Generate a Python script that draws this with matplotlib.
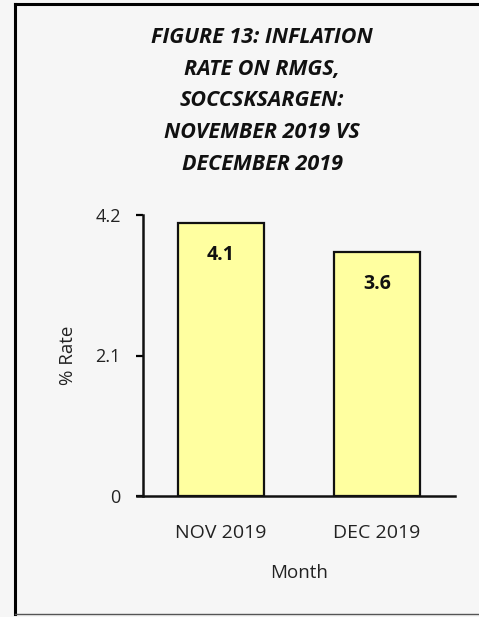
import matplotlib
matplotlib.use("Agg")
import matplotlib.pyplot as plt
from matplotlib.lines import Line2D

months = ["NOV 2019", "DEC 2019"]
rates = [4.08, 3.64]
yticks = [0, 2.1, 4.2]
ytick_labels = ["0", "2.1", "4.2"]
title = "FIGURE 13: INFLATION\nRATE ON RMGS,\nSOCCSKSARGEN:\nNOVEMBER 2019 VS\nDECEMBER 2019"

W, H = 479, 617
bg = "#f6f6f6"
plt.rcParams['font.family'] = ['Open Sans', 'DejaVu Sans']

fig = plt.figure(figsize=(W / 100, H / 100), dpi=100, facecolor=bg)

# outer frame (right edge cropped off)
fig.add_artist(Line2D([15.5 / W, 15.5 / W], [1 - 4 / H, 1 - 614 / H], transform=fig.transFigure,
                      color="black", lw=2.2, solid_capstyle="projecting"))
fig.add_artist(Line2D([15.5 / W, 1.0], [1 - 4 / H, 1 - 4 / H], transform=fig.transFigure,
                      color="black", lw=2.2, solid_capstyle="projecting"))
fig.add_artist(Line2D([15.5 / W, 1.0], [1 - 614 / H, 1 - 614 / H], transform=fig.transFigure,
                      color="#555555", lw=1.0))

ax = fig.add_axes([143 / W, 1 - 496 / H, 312 / W, 281 / H])
ax.set_facecolor(bg)

x = list(range(len(months)))
ax.bar(x, rates, width=0.55, color="#ffffa0", edgecolor="#111111", linewidth=1.6, zorder=3)

for xi, v in zip(x, rates):
    ax.annotate(f"{v:.1f}", xy=(xi, v), xytext=(0, -23), textcoords="offset points",
                ha="center", va="center", fontsize=14, fontweight="bold", color="#111111")

ax.set_xlim(-0.5, 1.5)
ax.set_ylim(0, 4.2)
ax.set_yticks(yticks)
ax.set_yticklabels(ytick_labels)
ax.set_xticks(x)
ax.set_xticklabels(months)
ax.tick_params(axis="y", direction="out", length=5, width=1.6, pad=11, labelsize=13, labelcolor="#222222")
ax.tick_params(axis="x", length=0, pad=20, labelsize=14, labelcolor="#222222")

for s in ["top", "right"]:
    ax.spines[s].set_visible(False)
for s in ["left", "bottom"]:
    ax.spines[s].set_linewidth(1.8)
    ax.spines[s].set_color("#111111")
ax.spines["bottom"].set_bounds(-0.5 - 6 / 156, 1.5)

ax.set_xlabel("Month", fontsize=13.5, color="#222222", labelpad=16)
ax.set_ylabel("% Rate", fontsize=13.5, color="#222222", labelpad=13)

fig.text(262 / W, 1 - 101 / H, title, ha="center", va="center", fontsize=15.5,
         fontweight="bold", fontstyle="italic", color="#111111", linespacing=1.67)

fig.savefig("out.png", dpi=100, facecolor=bg)
